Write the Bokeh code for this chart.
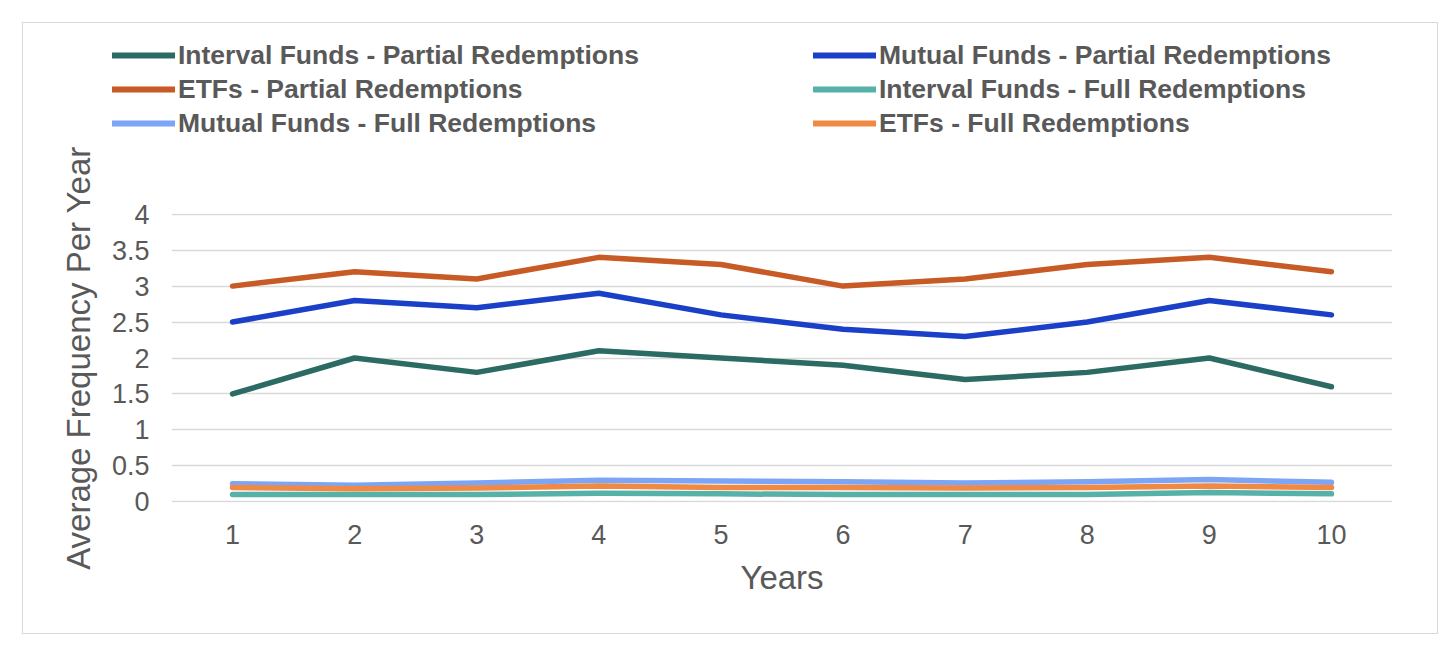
from bokeh.plotting import figure
from bokeh.layouts import column
from bokeh.models import Range1d, FixedTicker, Legend, LegendItem
from bokeh.embed import file_html
from bokeh.resources import INLINE

years = [1, 2, 3, 4, 5, 6, 7, 8, 9, 10]
interval_partial = [1.5, 2.0, 1.8, 2.1, 2.0, 1.9, 1.7, 1.8, 2.0, 1.6]
mutual_partial = [2.5, 2.8, 2.7, 2.9, 2.6, 2.4, 2.3, 2.5, 2.8, 2.6]
etf_partial = [3.0, 3.2, 3.1, 3.4, 3.3, 3.0, 3.1, 3.3, 3.4, 3.2]
interval_full = [0.1, 0.1, 0.1, 0.12, 0.11, 0.1, 0.1, 0.1, 0.13, 0.11]
mutual_full = [0.25, 0.23, 0.26, 0.3, 0.29, 0.28, 0.26, 0.28, 0.31, 0.27]
etf_full = [0.2, 0.18, 0.19, 0.22, 0.2, 0.2, 0.19, 0.2, 0.22, 0.2]

series_names = [
    "Interval Funds - Partial Redemptions",
    "Mutual Funds - Partial Redemptions",
    "ETFs - Partial Redemptions",
    "Interval Funds - Full Redemptions",
    "Mutual Funds - Full Redemptions",
    "ETFs - Full Redemptions",
]
series_values = [interval_partial, mutual_partial, etf_partial,
                 interval_full, mutual_full, etf_full]
series_colors = ["#2b6b63", "#1a40c8", "#c75a25", "#56b1a8", "#7da5f6", "#ef8943"]

y_ticks = [0, 0.5, 1, 1.5, 2, 2.5, 3, 3.5, 4]
y_tick_labels = ["0", "0.5", "1", "1.5", "2", "2.5", "3", "3.5", "4"]

FONT = "Liberation Sans"
GREY = "#595959"
W = 1414
LEG_H = 119
MAIN_H = 491

# ---- legend strip (top); its own copies of the series stay outside its view ----
pl = figure(width=W, height=LEG_H, output_backend="svg", toolbar_location=None,
            title=None, x_axis_type=None, y_axis_type=None,
            x_range=Range1d(-1, 0), y_range=Range1d(-1, 0),
            min_border=0, min_border_left=0, min_border_right=0,
            min_border_top=0, min_border_bottom=0)
pl.frame_align = False
pl.outline_line_color = None
pl.xgrid.visible = False
pl.ygrid.visible = False
leg_renderers = []
for vals, col in zip(series_values, series_colors):
    leg_renderers.append(pl.line(years, vals, line_color=col, line_width=6,
                                 line_cap="round", line_join="round"))


def make_legend(idx, loc):
    items = [LegendItem(label=series_names[i], renderers=[leg_renderers[i]]) for i in idx]
    return Legend(items=items, location=loc, orientation="vertical",
                  glyph_width=63, glyph_height=34, label_height=34,
                  label_standoff=3, spacing=0, padding=0, margin=0,
                  border_line_color=None, background_fill_alpha=0,
                  label_text_font=FONT, label_text_font_size="26.5px",
                  label_text_font_style="bold", label_text_color=GREY)

pl.add_layout(make_legend([0, 2, 4], (89, 2)), "center")
pl.add_layout(make_legend([1, 3, 5], (790, 2)), "center")

# ---- main chart ----
p = figure(width=W, height=MAIN_H, output_backend="svg", toolbar_location=None,
           title=None,
           x_range=Range1d(0.5, 10.5), y_range=Range1d(-0.01, 4.01),
           min_border_left=148, min_border_right=45,
           min_border_top=71, min_border_bottom=131)
p.frame_align = False
p.outline_line_color = None
p.background_fill_color = "white"
p.border_fill_color = "white"

for vals, col in zip(series_values, series_colors):
    p.line(years, vals, line_color=col, line_width=5.5,
           line_cap="round", line_join="round")

p.xgrid.grid_line_color = None
p.ygrid.grid_line_color = "#d9d9d9"
p.ygrid.grid_line_width = 1.5

p.yaxis.ticker = FixedTicker(ticks=y_ticks)
p.yaxis.major_label_overrides = dict(zip(y_ticks, y_tick_labels))
p.xaxis.ticker = FixedTicker(ticks=years)

for ax in (p.xaxis, p.yaxis):
    ax.axis_line_color = None
    ax.major_tick_line_color = None
    ax.minor_tick_line_color = None
    ax.major_tick_out = 0
    ax.major_tick_in = 0
    ax.minor_tick_out = 0
    ax.major_label_text_font = FONT
    ax.major_label_text_font_size = "27px"
    ax.major_label_text_color = GREY
    ax.axis_label_text_font = FONT
    ax.axis_label_text_font_size = "33px"
    ax.axis_label_text_font_style = "normal"
    ax.axis_label_text_color = GREY

p.yaxis.axis_label = "Average Frequency Per Year"
p.xaxis.axis_label = "Years"
p.yaxis.major_label_standoff = 22
p.xaxis.major_label_standoff = 22
p.yaxis.axis_label_standoff = 12
p.xaxis.axis_label_standoff = 12

layout = column(pl, p, spacing=0)
layout.margin = (22, 0, 0, 22)
layout.styles = {"border": "1px solid #d9d9d9", "background-color": "white"}

open("out.html", "w").write(file_html(layout, INLINE))
